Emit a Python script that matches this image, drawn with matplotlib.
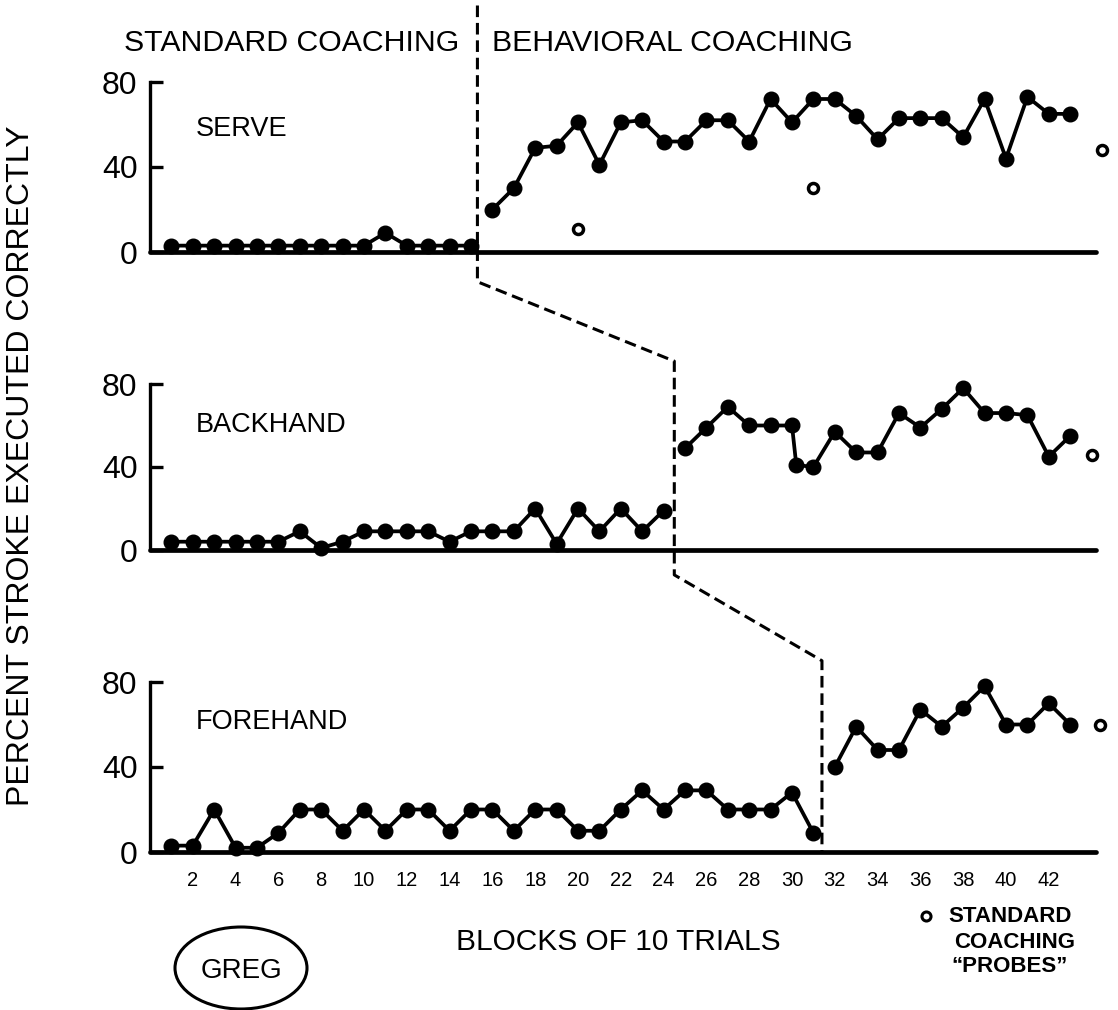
import matplotlib
matplotlib.use("Agg")
import matplotlib.pyplot as plt
from matplotlib.lines import Line2D
from matplotlib.patches import Ellipse

plt.rcParams['font.family'] = ['Liberation Sans', 'DejaVu Sans']

# ---- data: percent of strokes executed correctly per block of 10 trials ----
serve_std_blocks = list(range(1, 16))
serve_std = [3, 3, 3, 3, 3, 3, 3, 3, 3, 3, 9, 3, 3, 3, 3]
serve_beh_blocks = list(range(16, 44))
serve_beh = [20, 30, 49, 50, 61, 41, 61, 62, 52, 52, 62, 62, 52, 72, 61,
             72, 72, 64, 53, 63, 63, 63, 54, 72, 44, 73, 65, 65]
serve_probe_blocks = [20, 31, 44.5]
serve_probe = [11, 30, 48]

backhand_std_blocks = list(range(1, 25))
backhand_std = [4, 4, 4, 4, 4, 4, 9, 1, 4, 9, 9, 9, 9, 4, 9, 9, 9, 20,
                3, 20, 9, 20, 9, 19]
backhand_beh_blocks = [25, 26, 27, 28, 29, 30, 30.2] + list(range(31, 44))
backhand_beh = [49, 59, 69, 60, 60, 60, 41, 40, 57, 47, 47, 66, 59, 68,
                78, 66, 66, 65, 45, 55]
backhand_probe_blocks = [44]
backhand_probe = [46]

forehand_std_blocks = list(range(1, 32))
forehand_std = [3, 3, 20, 2, 2, 9, 20, 20, 10, 20, 10, 20, 20, 10, 20, 20,
                10, 20, 20, 10, 10, 20, 29, 20, 29, 29, 20, 20, 20, 28, 9]
forehand_beh_blocks = list(range(32, 44))
forehand_beh = [40, 59, 48, 48, 67, 59, 68, 78, 60, 60, 70, 60]
forehand_probe_blocks = [44.4]
forehand_probe = [60]

# block at which the coaching method changes in each panel
phase_change = [15.3, 24.5, 31.4]

stroke_names = ["SERVE", "BACKHAND", "FOREHAND"]
x_tick_blocks = list(range(2, 43, 2))
y_ticks = [0, 40, 80]

# ---- layout (pixel based) ----
W, H = 1118, 1010
fig = plt.figure(figsize=(W / 100, H / 100), dpi=100)

X0 = 150          # left spine
PX_PER_BLOCK = 21.4
XMAX = 44.8
AXIS_END = 44.2
panel_rows = [(252, 82), (550, 384), (852, 682)]   # (y of 0, y of 80)

def fx(px):
    return px / W

def fy(py):
    return 1 - py / H

axes = []
for (y0, y80) in panel_rows:
    ax = fig.add_axes([fx(X0), fy(y0), XMAX * PX_PER_BLOCK / W, (y0 - y80) / H])
    ax.set_xlim(0, XMAX)
    ax.set_ylim(0, 80)
    ax.patch.set_alpha(0)
    for side in ("top", "right"):
        ax.spines[side].set_visible(False)
    ax.spines["left"].set_bounds(0, 80)
    ax.spines["left"].set_linewidth(2.4)
    ax.spines["bottom"].set_bounds(0, AXIS_END)
    ax.spines["bottom"].set_linewidth(3.4)
    ax.spines["bottom"].set_capstyle("round")
    ax.set_yticks(y_ticks)
    ax.set_yticklabels([str(v) for v in y_ticks])
    ax.tick_params(axis="y", direction="in", length=9, width=2.4,
                   labelsize=23, pad=9)
    ax.set_xticks([])
    axes.append(ax)

series = [
    (serve_std_blocks, serve_std, serve_beh_blocks, serve_beh,
     serve_probe_blocks, serve_probe),
    (backhand_std_blocks, backhand_std, backhand_beh_blocks, backhand_beh,
     backhand_probe_blocks, backhand_probe),
    (forehand_std_blocks, forehand_std, forehand_beh_blocks, forehand_beh,
     forehand_probe_blocks, forehand_probe),
]

label_y = [58, 60, 61]
for ax, name, ly, (sb, sv, bb, bv, pb, pv) in zip(axes, stroke_names, label_y, series):
    for xs, ys in ((sb, sv), (bb, bv)):
        ax.plot(xs, ys, color="black", lw=2.7, marker="o", ms=10.5,
                mfc="black", mec="black", clip_on=False, zorder=3)
    ax.plot(pb, pv, ls="none", marker="o", ms=7.2, mfc="white",
            mec="black", mew=2.5, clip_on=False, zorder=3)
    ax.text(2.15, ly, name, fontsize=19.5, va="center", ha="left")

axes[2].set_xticks(x_tick_blocks)
axes[2].set_xticklabels([str(b) for b in x_tick_blocks])
axes[2].tick_params(axis="x", length=0, labelsize=14.5, pad=14)

# dashed phase-change line running through all three panels
segments = [(axes[0], phase_change[0], 116, -14),
            (axes[1], phase_change[1], 91, -12),
            (axes[2], phase_change[2], 90, 0)]
pts = []
for ax, xb, ytop, ybot in segments:
    for yv in (ytop, ybot):
        pts.append(fig.transFigure.inverted().transform(ax.transData.transform((xb, yv))))
fig.add_artist(Line2D([p[0] for p in pts], [p[1] for p in pts],
                      transform=fig.transFigure, color="black", lw=2.2,
                      dashes=(3.8, 1.9), zorder=5))

# phase headings
fig.text(fx(459), fy(43), "STANDARD COACHING", fontsize=21.8, ha="right", va="center")
fig.text(fx(492), fy(43), "BEHAVIORAL COACHING", fontsize=21.8, ha="left", va="center")

# axis titles
fig.text(fx(21), fy(466), "PERCENT STROKE EXECUTED CORRECTLY", fontsize=23,
         rotation=90, ha="center", va="center")
fig.text(fx(618), fy(942), "BLOCKS OF 10 TRIALS", fontsize=21.5, ha="center", va="center")

# subject tag
fig.add_artist(Ellipse((fx(241), fy(968)), 132 / W, 82 / H, fill=False,
                       lw=2.2, ec="black", transform=fig.transFigure))
fig.text(fx(241), fy(971), "GREG", fontsize=20, ha="center", va="center")

# probe key
fig.add_artist(Line2D([fx(926)], [fy(916)], ls="none", marker="o", ms=6.5,
                      mfc="white", mec="black", mew=2.2, transform=fig.transFigure))
fig.text(fx(1010), fy(917), "STANDARD", fontsize=16, fontweight="bold",
         ha="center", va="center")
fig.text(fx(1015), fy(942), "COACHING", fontsize=16, fontweight="bold",
         ha="center", va="center")
fig.text(fx(1010), fy(966), "\u201cPROBES\u201d", fontsize=16, fontweight="bold",
         ha="center", va="center")

fig.savefig("out.png", dpi=100, facecolor="white")
